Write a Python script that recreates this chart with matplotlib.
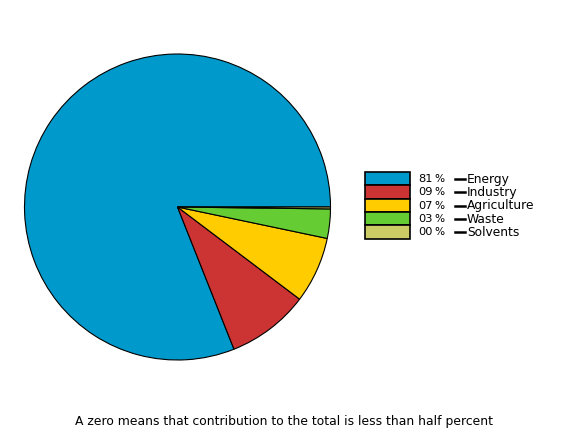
import matplotlib
matplotlib.use("Agg")
import matplotlib.pyplot as plt
from matplotlib.patches import Rectangle

sectors = ["Energy", "Industry", "Agriculture", "Waste", "Solvents"]
shares = [81.1, 8.7, 7.0, 3.1, 0.2]
labels_pct = ["81 %", "09 %", "07 %", "03 %", "00 %"]
colors = ["#0099cc", "#cc3333", "#ffcc00", "#66cc33", "#cccc66"]
note = "A zero means that contribution to the total is less than half percent"

W, H = 570, 430
fig = plt.figure(figsize=(W / 100, H / 100), dpi=100)
fig.patch.set_facecolor("white")
plt.rcParams['font.family'] = ['DejaVu Sans']

# pie
cx, cy, r = 177.5, 207, 153
ax = fig.add_axes([(cx - r) / W, (H - cy - r) / H, 2 * r / W, 2 * r / H])
ax.pie(shares, colors=colors, startangle=0, counterclock=True,
       wedgeprops=dict(edgecolor="black", linewidth=0.8))
ax.set_xlim(-1, 1)
ax.set_ylim(-1, 1)
ax.set_aspect("equal")
ax.axis("off")

# legend in pixel coords
lg = fig.add_axes([0, 0, 1, 1])
lg.set_xlim(0, W)
lg.set_ylim(H, 0)
lg.axis("off")
top = 172
rh = 13.3
for i, (s, p, c) in enumerate(zip(sectors, labels_pct, colors)):
    y0 = top + i * rh
    yc = y0 + rh / 2 + 0.5
    num, pct = p.split(" ")
    lg.add_patch(Rectangle((364.5, y0), 45, rh, facecolor=c, edgecolor="black", linewidth=1.2))
    lg.text(418, yc, num, fontsize=8.2, va="center", ha="left")
    lg.text(434, yc, pct, fontsize=7.6, va="center", ha="left")
    lg.plot([455, 465], [yc, yc], color="black", linewidth=1.8)
    lg.text(467, yc, s, fontsize=8.8, va="center", ha="left")

lg.text(284, 421, note, fontsize=8.9, va="center", ha="center")

fig.savefig("out.png", dpi=100)
